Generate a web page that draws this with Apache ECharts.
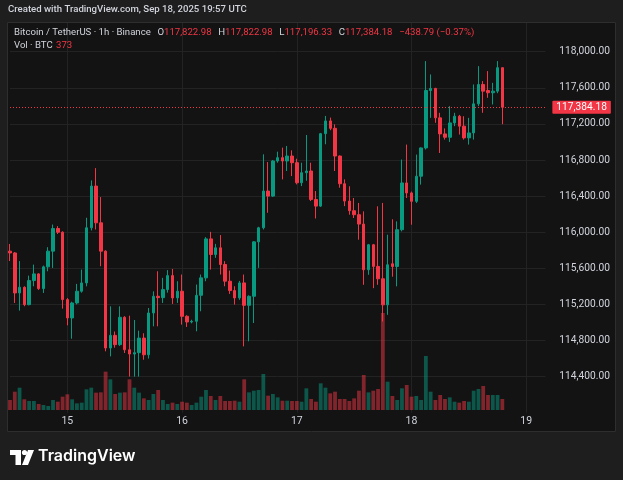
<!DOCTYPE html>
<html><head><meta charset="utf-8">
<script src="https://cdn.jsdelivr.net/npm/echarts@6/dist/echarts.min.js"></script>
<style>html,body{margin:0;padding:0;background:#1e1e1e}#c{width:623px;height:480px}</style>
</head><body><div id="c"></div>
<script>
// BTC/USDT 1h candles, Sep 14 12:00 UTC -> Sep 18 19:00 UTC
const openP = [
115790,115770,115327,115390,115197,115464,115538,115375,115616,115790,
116041,116000,115253,115050,115216,115346,115438,116049,116511,116104,
115790,114717,114857,114754,115057,114697,114650,114665,114827,114642,
115105,115290,115275,115364,115519,115272,115346,115068,115005,115013,
115301,115494,115926,115753,115827,115642,115457,115353,115272,115438,
115190,115290,115893,116049,116456,116400,116789,116826,116789,116844,
116770,116548,116659,116678,116363,116289,117092,117233,117151,116844,
116537,116345,116238,116194,116090,115584,115861,115621,115484,115195,
115650,115620,116028,116546,116435,116342,116620,116934,117570,117593,
117267,117089,117052,117211,117285,117175,117045,117100,117422,117637,
117570,117545,117563,117822.98];
const closeP = [
115770,115327,115390,115197,115464,115538,115375,115616,115790,116041,
116000,115253,115050,115216,115346,115438,116049,116511,116104,115790,
114717,114857,114754,115057,114697,114650,114665,114827,114642,115105,
115290,115275,115364,115519,115272,115346,115068,115005,115013,115301,
115494,115926,115753,115827,115642,115457,115353,115272,115438,115190,
115290,115893,116049,116456,116400,116789,116826,116789,116844,116770,
116548,116659,116678,116363,116289,117092,117233,117151,116844,116537,
116345,116238,116194,116090,115584,115861,115621,115484,115195,115639,
115620,116028,116546,116435,116342,116620,116934,117570,117593,117267,
117089,117052,117211,117285,117175,117045,117100,117422,117637,117563,
117545,117563,117822.97,117384.18];
const lowP = [
115680,115216,115131,115180,115190,115401,115360,115327,115567,115604,
115980,115153,114968,114820,115200,115330,115400,116019,116030,115623,
114680,114624,114720,114740,114661,114400,114399,114400,114587,114600,
114957,114957,115216,115330,115205,115216,114976,114950,114990,114902,
115124,115457,115586,115716,115531,115401,115316,115198,115250,114735,
114791,114994,115605,116030,116215,116390,116770,116585,116678,116622,
116530,116511,116570,116345,116152,116280,116974,117130,116678,116493,
116289,116194,116157,115917,115417,115528,115380,115417,115010,115084,
115507,115400,116009,116379,116083,116324,116527,116916,117267,117212,
116878,117026,117000,117175,117082,117026,116971,117026,117397,117323,
117489,117415,117540,117196.33];
const highP = [
115870,115780,115680,115400,115519,115641,115545,115630,115834,116085,
116067,116010,115270,115230,115427,115586,116160,116574,116710,116389,
115800,115179,114900,115179,115070,115075,115027,114909,114880,115160,
115345,115567,115494,115580,115593,115457,115531,115080,115030,115420,
115531,115945,116004,115870,115968,115679,115575,115401,115460,115531,
115300,115900,116060,116863,116777,116800,116892,116937,116955,116907,
116814,116770,117077,116770,116456,117100,117288,117270,117195,116850,
116585,116509,116379,116324,116231,115870,115870,116287,116324,115972,
116143,116120,116805,116971,116450,116860,116940,117896,117748,117600,
117323,117150,117397,117323,117300,117285,117267,117637,117840,117674,
117785,117655,117896,117822.98];
const volume = [
339,621,757,362,305,305,203,170,136,339,
282,452,531,362,226,249,701,757,588,599,
1300,1040,542,588,599,1040,757,588,395,339,
542,678,339,203,249,203,282,249,170,249,
452,678,475,339,475,305,305,316,282,1040,
599,655,678,1220,486,542,429,316,316,305,
305,282,735,373,282,904,757,565,621,373,
373,305,395,655,1187,599,655,712,3290,960,
475,339,735,848,452,475,339,1830,621,339,
508,373,429,282,249,305,282,655,712,814,
508,508,508,373];
const dayTickLabels = ['15','16','17','18','19'];
const firstDay = 14, firstHour = 12, totalSlots = 113;

const categories = [];
for (let i = 0; i < totalSlots; i++) {
  const h = firstHour + i;
  categories.push((firstDay + Math.floor(h / 24)) + ' ' + String(h % 24).padStart(2, '0') + ':00');
}
const isDayStart = (i) => categories[i].endsWith(' 00:00') && dayTickLabels.includes(categories[i].split(' ')[0]);

const UP = '#089981', DOWN = '#f23645';
const VUP = 'rgba(8,153,129,0.5)', VDOWN = 'rgba(242,54,69,0.5)';
const candleData = openP.map((o, i) => [o, closeP[i], lowP[i], highP[i]]);
const volData = volume.map((v, i) => ({ value: v, itemStyle: { color: closeP[i] >= openP[i] ? VUP : VDOWN } }));
const last = openP.length - 1;
const fmt = v => Number(v).toLocaleString('en-US', { minimumFractionDigits: 2, maximumFractionDigits: 2 });
const change = closeP[last] - closeP[last - 1];
const pct = change / closeP[last - 1] * 100;

const FONT = 'Roboto';
const TXT = '#d1d4dc';
const GRID = '#232323';
const gridL = 10, gridW = 535.36;

const chart = echarts.init(document.getElementById('c'), null, { renderer: 'canvas' });
const splitColors = [];
for (let i = 0; i < 12; i++) splitColors.push(i === 0 || i === 11 ? 'rgba(0,0,0,0)' : GRID);

chart.setOption({
  animation: false,
  backgroundColor: '#131313',
  grid: [
    { left: gridL, width: gridW, top: 15.6, height: 397.1 },
    { left: gridL, width: gridW, top: 300, height: 110 }
  ],
  xAxis: [
    { type: 'category', gridIndex: 0, data: categories, boundaryGap: false,
      axisLine: { show: false }, axisTick: { show: false }, axisLabel: { show: false },
      splitLine: { show: true, interval: (i) => isDayStart(i), lineStyle: { color: GRID, width: 1 } } },
    { type: 'category', gridIndex: 1, data: categories, boundaryGap: false,
      axisLine: { show: false }, axisTick: { show: false }, splitLine: { show: false },
      axisLabel: { show: true, interval: (i) => isDayStart(i), formatter: v => v.split(' ')[0],
        color: TXT, fontFamily: FONT, fontSize: 10.5, margin: 6 } }
  ],
  yAxis: [
    { type: 'value', gridIndex: 0, position: 'right', min: 114000, max: 118400, interval: 400,
      axisLine: { show: false }, axisTick: { show: false },
      axisLabel: { color: TXT, fontFamily: FONT, fontSize: 10.2, margin: 14, formatter: fmt,
        showMinLabel: false, showMaxLabel: false },
      splitLine: { show: true, lineStyle: { color: splitColors, width: 1 } } },
    { type: 'value', gridIndex: 1, min: 0, max: 3729, show: false, splitLine: { show: false } }
  ],
  series: [
    { type: 'bar', xAxisIndex: 1, yAxisIndex: 1, data: volData, barWidth: 3.8, clip: false, z: 2,
      markLine: { silent: true, symbol: ['none', 'none'], animation: false,
        data: [{ yAxis: volume[last] }],
        lineStyle: { opacity: 0 },
        label: { position: 'end', distance: 8, formatter: () => String(volume[last]),
          backgroundColor: '#e04f5b', color: '#ffffff', padding: [2, 4, 1, 4],
          fontFamily: FONT, fontSize: 10, borderRadius: 1 } } },
    { type: 'candlestick', xAxisIndex: 0, yAxisIndex: 0, data: candleData, barWidth: 3, clip: false, z: 3,
      itemStyle: { color: UP, color0: DOWN, borderColor: UP, borderColor0: DOWN, borderWidth: 1 },
      markLine: { silent: true, symbol: ['none', 'none'], animation: false,
        data: [{ yAxis: closeP[last] }],
        lineStyle: { color: DOWN, type: [1, 2], width: 1 },
        label: { position: 'end', distance: 7, formatter: () => fmt(closeP[last]),
          backgroundColor: DOWN, color: '#ffffff', padding: [2, 4, 1, 4],
          fontFamily: FONT, fontSize: 10.2, borderRadius: 1 } } }
  ],
  graphic: [
    { type: 'rect', z: 100, shape: { x: 0, y: 0, width: 623, height: 22 }, style: { fill: '#1e1e1e' } },
    { type: 'rect', z: 100, shape: { x: 0, y: 0, width: 7, height: 480 }, style: { fill: '#1e1e1e' } },
    { type: 'rect', z: 100, shape: { x: 616, y: 0, width: 7, height: 480 }, style: { fill: '#1e1e1e' } },
    { type: 'rect', z: 100, shape: { x: 0, y: 432, width: 623, height: 48 }, style: { fill: '#1e1e1e' } },
    { type: 'rect', z: 101, shape: { x: 7.5, y: 22.5, width: 608, height: 409 }, style: { fill: 'none', stroke: '#2e2e2e', lineWidth: 1 } },
    { type: 'text', z: 102, left: 8, top: 5,
      style: { text: 'Created with TradingView.com, Sep 18, 2025 19:57 UTC', fill: TXT, font: '500 9.6px Roboto' } },
    { type: 'text', z: 102, left: 14, top: 27,
      style: {
        text: '{t|Bitcoin / TetherUS · 1h · Binance}  {k|O}{v|' + fmt(openP[last]) + '}  {k|H}{v|' + fmt(highP[last]) +
          '}  {k|L}{v|' + fmt(lowP[last]) + '}  {k|C}{v|' + fmt(closeP[last]) + '}  {v|' +
          (change < 0 ? '−' : '+') + fmt(Math.abs(change)) + ' (' + (change < 0 ? '−' : '+') + Math.abs(pct).toFixed(2) + '%)}',
        rich: {
          t: { fill: TXT, fontFamily: FONT, fontSize: 9.6 },
          k: { fill: TXT, fontFamily: FONT, fontSize: 9.6 },
          v: { fill: DOWN, fontFamily: FONT, fontSize: 9.6 }
        }
      } },
    { type: 'text', z: 102, left: 14, top: 40,
      style: {
        text: '{t|Vol · BTC} {v|' + volume[last] + '}',
        rich: {
          t: { fill: TXT, fontFamily: FONT, fontSize: 9.6 },
          v: { fill: DOWN, fontFamily: FONT, fontSize: 9.6 }
        }
      } },
    { type: 'group', z: 102, children: [
      { type: 'polygon', z: 102, shape: { points: [[10, 450], [21, 450], [21, 465], [15.5, 465], [15.5, 455], [10, 455]] }, style: { fill: '#ffffff' } },
      { type: 'circle', z: 102, shape: { cx: 24.5, cy: 452.5, r: 2.6 }, style: { fill: '#ffffff' } },
      { type: 'polygon', z: 102, shape: { points: [[22, 465], [28, 450], [34, 450], [28, 465]] }, style: { fill: '#ffffff' } }
    ] },
    { type: 'text', z: 102, left: 38, top: 448,
      style: { text: 'TradingView', fill: '#ffffff', font: '600 16px Inter' } }
  ]
});
</script>
</body></html>
